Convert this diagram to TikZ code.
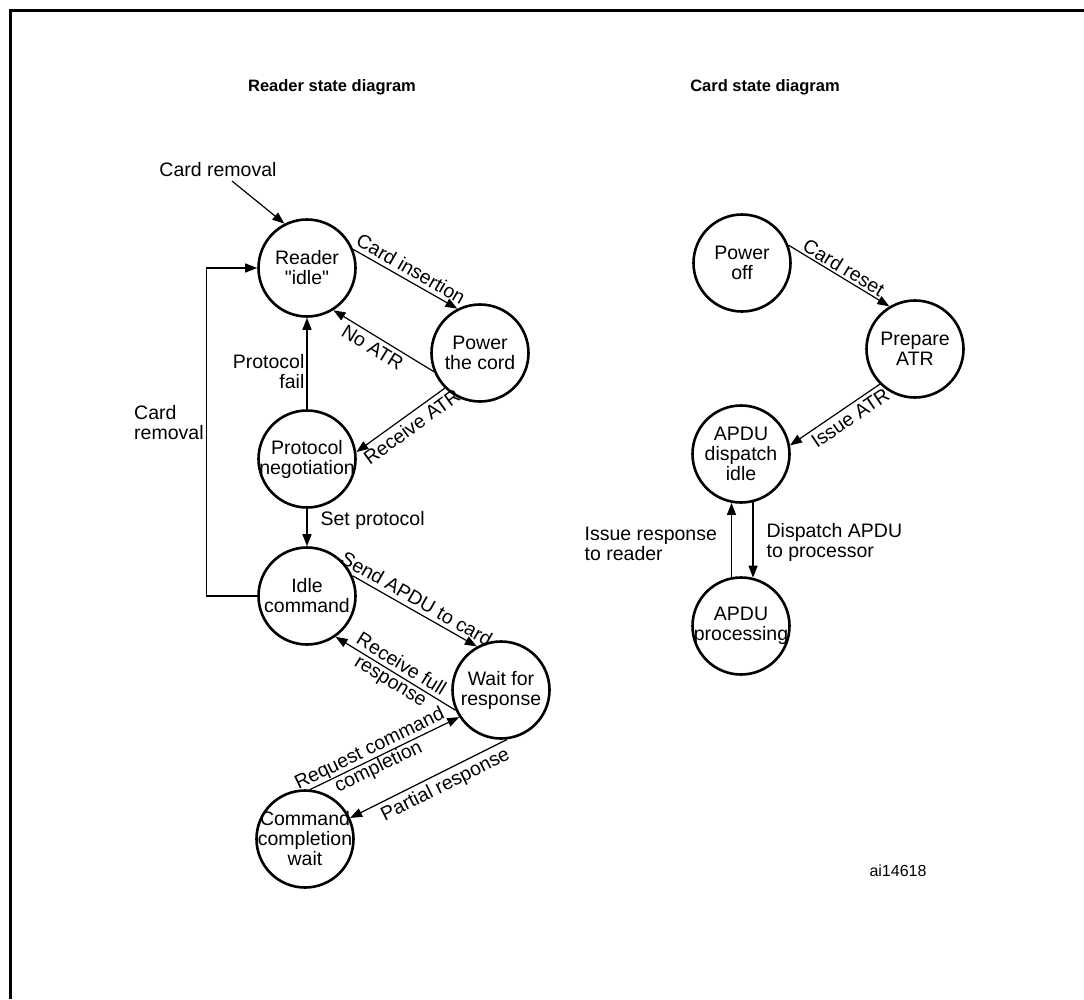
\documentclass[tikz,border=0pt]{standalone}
\usepackage{fontspec}
\setmainfont{Liberation Sans}
\usetikzlibrary{arrows.meta}
\begin{document}
\begin{tikzpicture}[x=1pt,y=-1pt,
  state/.style={circle, draw, line width=2.6pt, minimum size=97pt, inner sep=0pt},
  st/.style={align=center, inner sep=0pt, font=\fontsize{19.5}{20}\selectfont},
  conn/.style={line width=1.2pt, -{Triangle[length=12pt,width=9pt]}},
  lbl/.style={font=\fontsize{19.5}{20}\selectfont, inner sep=2pt},
  slbl/.style={lbl, sloped, inner sep=4pt},
  ttl/.style={font=\bfseries\fontsize{16.5}{19}\selectfont},
  frame/.style={line width=3pt}]
\useasboundingbox (0,0) rectangle (1084,999);
\draw[frame] (10.5,999) -- (10.5,10) -- (1084,10);

\node[ttl] (t1) at (332,87) {Reader state diagram};
\node[ttl] (t2) at (765,87) {Card state diagram};

% Reader states
\node[state, label={[st]center:Reader\\\textquotedbl idle\textquotedbl}] (reader) at (307,268) {};
\node[state, label={[st]center:Power\\the cord}] (power) at (480,353) {};
\node[state, label={[st]center:Protocol\\negotiation}] (pn) at (307,459) {};
\node[state, label={[st]center:Idle\\command}] (idle) at (307,596) {};
\node[state, label={[st]center:Wait for\\response}] (wait) at (501,690) {};
\node[state, label={[st]center:Command\\completion\\wait}] (ccw) at (305,839) {};

\node[lbl] (crtxt) at (218,170) {Card removal};
\coordinate (cr) at (232,181);
\draw[conn] (cr) -- (reader.117);
\draw[conn] (reader.22) -- node[slbl, above] {Card insertion} (power.117);
\draw[conn] (power.202) -- node[slbl, below, pos=0.55] {No ATR} (reader.-58);
\draw[conn] (power.225) -- node[slbl, below, pos=0.45] {Receive ATR} (pn.8);
\draw[conn] (pn.north) -- node[lbl, left, align=right, pos=0.41] {Protocol\\fail} (reader.south);
\draw[conn] (pn.south) -- node[lbl, right, pos=0.3, xshift=11pt] {Set protocol} (idle.north);
\draw[conn] (idle.west) -- ++(-51,0) |- node[lbl, left, align=left, pos=0.265] {Card\\removal} (reader.west);
\draw[conn] (idle.24) -- node[slbl, above, pos=0.47] {Send APDU to card} (wait.119);
\draw[conn] (wait.204) -- node[lbl, sloped, align=center, pos=0.5] {Receive full\\response} (idle.-55);
\draw[conn] (ccw.84) -- node[lbl, sloped, align=center, pos=0.43] {Request command\\completion} (wait.213);
\draw[conn] (wait.-83) -- node[slbl, below, pos=0.43] {Partial response} (ccw.25);

% Card states
\node[state, label={[st]center:Power\\off}] (poff) at (742,263) {};
\node[state, label={[st]center:Prepare\\ATR}] (prep) at (915,349) {};
\node[state, label={[st]center:APDU\\dispatch\\idle}] (disp) at (741,454) {};
\node[state, label={[st]center:APDU\\processing}] (proc) at (741,626) {};

\draw[conn] (poff.21) -- node[slbl, above, inner sep=2pt] {Card reset} (prep.121);
\draw[conn] (prep.225) -- node[slbl, below, pos=0.4] {Issue ATR} (disp.10);
\draw[conn] (disp.-76) -- node[lbl, right, align=left, pos=0.53, xshift=11pt] {Dispatch APDU\\to processor} (proc.76);
\draw[conn] (proc.101.5) -- node[lbl, left, align=left, pos=0.45, xshift=-12pt] {Issue response\\to reader} (disp.-101.5);

\node[font=\fontsize{16}{19}\selectfont] (ai) at (898,871) {ai14618};
\end{tikzpicture}
\end{document}
